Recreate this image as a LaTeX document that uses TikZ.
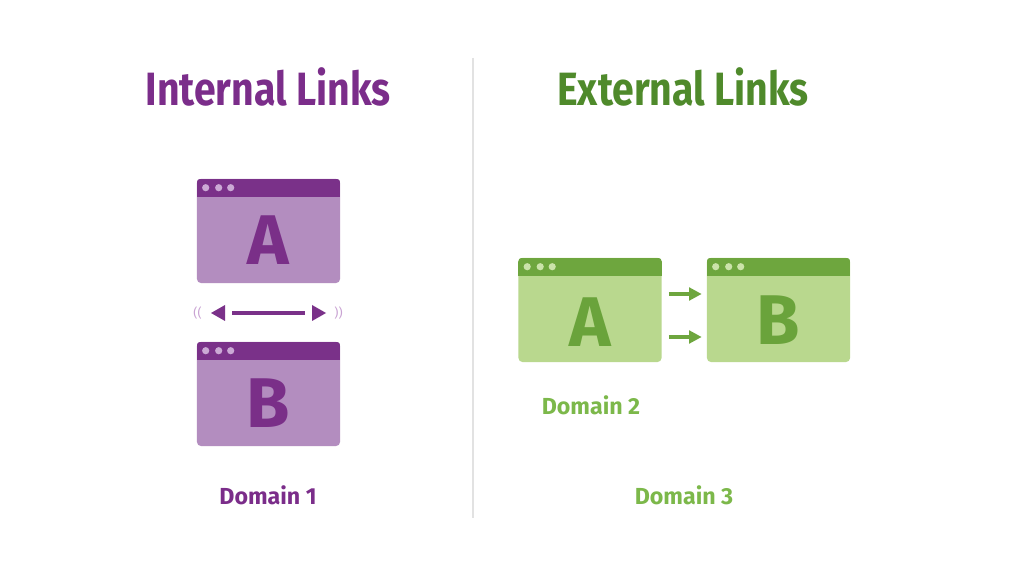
\documentclass[tikz,border=0pt]{standalone}
\usepackage{fontspec}
\setmainfont{Fira Sans}
\newfontfamily\tfont[FakeStretch=0.84]{Fira Sans}
\usetikzlibrary{calc,arrows.meta}
\definecolor{ptitle}{HTML}{7B2D8A}
\definecolor{pbar}{HTML}{7A3189}
\definecolor{pbody}{HTML}{B38DBF}
\definecolor{pletter}{HTML}{7A2F88}
\definecolor{pdot}{HTML}{CBA9D5}
\definecolor{pfaint}{HTML}{C9A3D3}
\definecolor{gtitle}{HTML}{4F8A2B}
\definecolor{gbar}{HTML}{6EA63E}
\definecolor{gbody}{HTML}{B9D88E}
\definecolor{gletter}{HTML}{6AA33B}
\definecolor{gdot}{HTML}{CBE3AA}
\definecolor{gtext}{HTML}{7CB84A}
\definecolor{divider}{HTML}{E2E2E2}
\tikzset{
  win/.style={rectangle, rounded corners=2.8pt, minimum width=3.575cm, minimum height=2.6cm, inner sep=0pt},
  letter/.style={inner sep=0pt, font=\bfseries\fontsize{50}{50}\selectfont},
  ttl/.style={font=\tfont\bfseries\fontsize{33.2}{34}\selectfont},
  domtext/.style={font=\bfseries\fontsize{16.5}{18}\selectfont},
  faint/.style={font=\fontsize{9}{9}\selectfont, text=pfaint},
}
\newcommand{\winbar}[3]{%
  \begin{scope}
    \clip[rounded corners=2.8pt] (#1.south west) rectangle (#1.north east);
    \fill[#2] (#1.north west) rectangle ($(#1.north east)+(0,18)$);
  \end{scope}
  \foreach \dx in {9,22,34}
    \fill[#3] ($(#1.north west)+(\dx,9)$) circle (0.09cm);
}
\begin{document}
\begin{tikzpicture}[x=0.025cm,y=-0.025cm]
\useasboundingbox[fill=white] (0,0) rectangle (1024,576);
% divider
\coordinate (d1) at (473,58);
\coordinate (d2) at (473,518);
\draw[divider, line width=0.8pt] (d1) -- (d2);
% titles
\node[ttl, text=ptitle] (tI) at (268,87) {Internal Links};
\node[ttl, text=gtitle] (tE) at (683,87) {External Links};
% purple windows
\node[win, fill=pbody] (pA) at (268.5,231) {};
\winbar{pA}{pbar}{pdot}
\node[letter, text=pletter] (pAl) at ($(pA)+(0,9.5)$) {A};
\node[win, fill=pbody] (pB) at (268.5,394) {};
\winbar{pB}{pbar}{pdot}
\node[letter, text=pletter] (pBl) at ($(pB)+(0,9.5)$) {B};
% internal arrow
\coordinate (lt) at (211,313);
\coordinate (rt) at (326,313);
\fill[pbar] (lt) -- ++(14,-8) -- ++(0,16) -- cycle;
\fill[pbar] (rt) -- ++(-14,-8) -- ++(0,16) -- cycle;
\draw[pbar, line width=3.2pt] ($(lt)+(21,0)$) -- ($(rt)+(-21,0)$);
\node[faint] (fl) at (197.5,313) {((};
\node[faint] (fr) at (338.5,313) {))};
\node[domtext, text=ptitle] (d1t) at (268,495) {Domain 1};
% green windows
\node[win, fill=gbody] (gA) at (590,310) {};
\winbar{gA}{gbar}{gdot}
\node[letter, text=gletter] (gAl) at ($(gA)+(0,12)$) {A};
\node[win, fill=gbody] (gB) at (778.5,310) {};
\winbar{gB}{gbar}{gdot}
\node[letter, text=gletter] (gBl) at ($(gB)+(0,10)$) {B};
\draw[gbar, line width=2.2pt, -{Triangle[length=9pt,width=9pt]}] ($(gA.east)+(7,-16)$) -- ($(gB.west)+(-5,-16)$);
\draw[gbar, line width=2.2pt, -{Triangle[length=9pt,width=9pt]}] ($(gA.east)+(7,27)$) -- ($(gB.west)+(-5,27)$);
\node[domtext, text=gtext] (d2t) at (591,405) {Domain 2};
\node[domtext, text=gtext] (d3t) at (684,495) {Domain 3};
\end{tikzpicture}
\end{document}
